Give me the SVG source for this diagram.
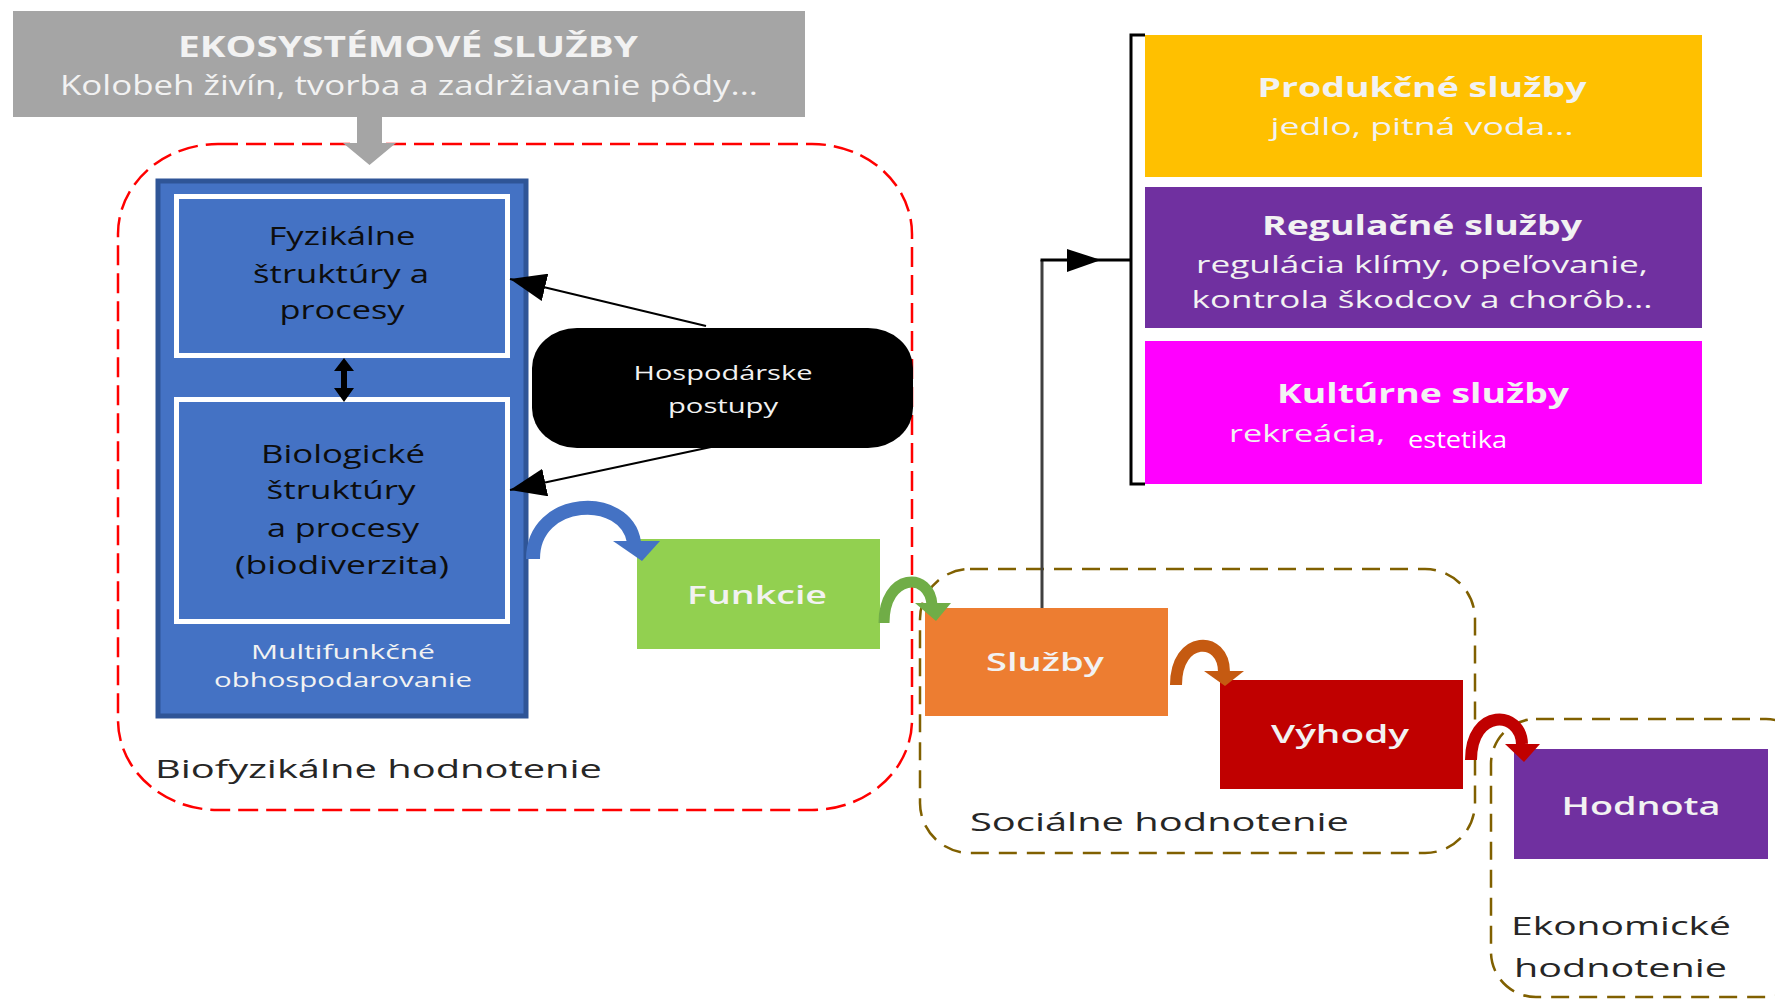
<svg xmlns="http://www.w3.org/2000/svg" width="1775" height="1000" viewBox="0 0 1775 1000">
<style>
text{font-family:"Open Sans","Liberation Sans",sans-serif;text-anchor:middle}
.w{fill:#F2F2F2}
.k{fill:#0D0D0D}
.lbl{fill:#262626;font-size:26px;text-anchor:start}
.b{font-weight:bold}
.sb{font-weight:600}
.redd{fill:none;stroke:#FF0000;stroke-width:2.5;stroke-dasharray:20 8}
.brd{fill:none;stroke:#806000;stroke-width:2.5;stroke-dasharray:18 10}
.ln{fill:none;stroke:#000;stroke-width:2}
</style>
<defs>
<marker id="ah" markerUnits="userSpaceOnUse" markerWidth="36" markerHeight="28" refX="36" refY="14" orient="auto">
<path d="M0,0 L36,14 L0,28 Z" fill="#000"/>
</marker>
</defs>

<!-- frames -->
<g id="frame-biofyzikalne">
<rect class="redd" x="118" y="144" width="794" height="666" rx="100" ry="90"/>
<text class="lbl" x="155" y="778" textLength="447" lengthAdjust="spacingAndGlyphs">Biofyzikálne hodnotenie</text>
</g>
<g id="frame-socialne">
<rect class="brd" x="920" y="569" width="555" height="284" rx="50" ry="50"/>
<text class="lbl" x="970" y="831" textLength="379" lengthAdjust="spacingAndGlyphs">Sociálne hodnotenie</text>
</g>
<g id="frame-ekonomicke">
<rect class="brd" x="1491" y="719" width="320" height="278" rx="45" ry="45"/>
<text class="lbl" x="1511" y="935" textLength="220" lengthAdjust="spacingAndGlyphs">Ekonomické</text>
<text class="lbl" x="1514" y="977" textLength="213" lengthAdjust="spacingAndGlyphs">hodnotenie</text>
</g>

<!-- nodes -->
<g id="ekosystemove-sluzby">
<rect x="13" y="11" width="792" height="106" fill="#A5A5A5"/>
<text class="w b" x="408" y="57" font-size="28" textLength="460" lengthAdjust="spacingAndGlyphs">EKOSYSTÉMOVÉ SLUŽBY</text>
<text class="w" x="409" y="95" font-size="27" textLength="698" lengthAdjust="spacingAndGlyphs">Kolobeh živín, tvorba a zadržiavanie pôdy...</text>
<path d="M357 116 L382 116 L382 143 L396 143 L369.5 165 L343 143 L357 143 Z" fill="#A5A5A5"/>
</g>

<g id="multifunkcne">
<rect x="158" y="181" width="368" height="535" fill="#4472C4" stroke="#2F5597" stroke-width="5"/>
<text class="w" x="343" y="659" font-size="20" textLength="184" lengthAdjust="spacingAndGlyphs">Multifunkčné</text>
<text class="w" x="343" y="687" font-size="20" textLength="258" lengthAdjust="spacingAndGlyphs">obhospodarovanie</text>
</g>

<g id="fyzikalne">
<rect x="176.5" y="196.5" width="331" height="159" fill="#4472C4" stroke="#FFFFFF" stroke-width="5"/>
<text class="k" x="342" y="245" font-size="25" textLength="147" lengthAdjust="spacingAndGlyphs">Fyzikálne</text>
<text class="k" x="341" y="283" font-size="25" textLength="176" lengthAdjust="spacingAndGlyphs">štruktúry a</text>
<text class="k" x="342" y="319" font-size="25" textLength="125" lengthAdjust="spacingAndGlyphs">procesy</text>
</g>

<g id="biologicke">
<rect x="176.5" y="399.5" width="331" height="222" fill="#4472C4" stroke="#FFFFFF" stroke-width="5"/>
<text class="k" x="343" y="463" font-size="25" textLength="164" lengthAdjust="spacingAndGlyphs">Biologické</text>
<text class="k" x="341" y="499" font-size="25" textLength="149" lengthAdjust="spacingAndGlyphs">štruktúry</text>
<text class="k" x="343" y="537" font-size="25" textLength="152" lengthAdjust="spacingAndGlyphs">a procesy</text>
<text class="k" x="342" y="574" font-size="25" textLength="214" lengthAdjust="spacingAndGlyphs">(biodiverzita)</text>
</g>

<g id="hospodarske">
<rect x="532" y="328" width="381" height="120" rx="45" ry="40" fill="#000"/>
<text class="w" x="723" y="380" font-size="20" textLength="179" lengthAdjust="spacingAndGlyphs">Hospodárske</text>
<text class="w" x="723" y="413" font-size="20" textLength="110" lengthAdjust="spacingAndGlyphs">postupy</text>
</g>

<g id="funkcie">
<rect x="637" y="539" width="243" height="110" fill="#92D050"/>
<text class="w sb" x="757" y="604" font-size="26" textLength="140" lengthAdjust="spacingAndGlyphs">Funkcie</text>
</g>

<g id="sluzby">
<rect x="925" y="608" width="243" height="108" fill="#ED7D31"/>
<text class="w sb" x="1045" y="671" font-size="26" textLength="118" lengthAdjust="spacingAndGlyphs">Služby</text>
</g>

<g id="vyhody">
<rect x="1220" y="680" width="243" height="109" fill="#C00000"/>
<text class="w sb" x="1340" y="743" font-size="26" textLength="138" lengthAdjust="spacingAndGlyphs">Výhody</text>
</g>

<g id="hodnota">
<rect x="1514" y="749" width="254" height="110" fill="#7030A0"/>
<text class="w sb" x="1641" y="815" font-size="26" textLength="159" lengthAdjust="spacingAndGlyphs">Hodnota</text>
</g>

<g id="produkcne">
<rect x="1145" y="35" width="557" height="142" fill="#FFC000"/>
<text class="w b" x="1422" y="97" font-size="26" textLength="329" lengthAdjust="spacingAndGlyphs">Produkčné služby</text>
<text class="w" x="1422" y="135" font-size="24" textLength="303" lengthAdjust="spacingAndGlyphs">jedlo, pitná voda...</text>
</g>

<g id="regulacne">
<rect x="1145" y="187" width="557" height="141" fill="#7030A0"/>
<text class="w b" x="1422" y="235" font-size="26" textLength="320" lengthAdjust="spacingAndGlyphs">Regulačné služby</text>
<text class="w" x="1422" y="273" font-size="24" textLength="452" lengthAdjust="spacingAndGlyphs">regulácia klímy, opeľovanie,</text>
<text class="w" x="1422" y="308" font-size="24" textLength="461" lengthAdjust="spacingAndGlyphs">kontrola škodcov a chorôb...</text>
</g>

<g id="kulturne">
<rect x="1145" y="341" width="557" height="143" fill="#FF00FF"/>
<text class="w b" x="1423" y="403" font-size="26" textLength="292" lengthAdjust="spacingAndGlyphs">Kultúrne služby</text>
<text class="w" x="1229" y="442" font-size="24" style="text-anchor:start" textLength="156" lengthAdjust="spacingAndGlyphs">rekreácia,</text>
<text x="1408" y="448" font-size="23" style="text-anchor:start;fill:#FFFFFF" textLength="99" lengthAdjust="spacingAndGlyphs">estetika</text>
</g>

<!-- connectors -->
<g id="connectors">
<line class="ln" x1="706" y1="326" x2="510" y2="279" marker-end="url(#ah)"/>
<line class="ln" x1="711" y1="447" x2="510" y2="490" marker-end="url(#ah)"/>
<line x1="344" y1="368" x2="344" y2="391" stroke="#000" stroke-width="6"/>
<path d="M334 371 L354 371 L344 358 Z M334 388 L354 388 L344 402 Z" fill="#000"/>
<path d="M1042 608 L1042 260" fill="none" stroke="#404040" stroke-width="3"/>
<path d="M1040.5 260 L1131 260" fill="none" stroke="#000" stroke-width="3"/>
<path d="M1067 249 L1101 260 L1067 272 Z" fill="#000"/>
<path d="M1145 35 L1131 35 L1131 484 L1145 484" fill="none" stroke="#000" stroke-width="3"/>
<path d="M533 559 C 533 496, 626 492, 634 542" fill="none" stroke="#4472C4" stroke-width="14"/>
<path d="M613 541 L660 541 L642 561 Z" fill="#4472C4"/>
<path d="M884 623 C 884 573, 930 571, 932 605" fill="none" stroke="#70AD47" stroke-width="11"/>
<path d="M915 603 L951 603 L936 621 Z" fill="#70AD47"/>
<path d="M1176 685 C 1176 635, 1224 635, 1224 672" fill="none" stroke="#C55A11" stroke-width="12"/>
<path d="M1204 671 L1244 671 L1225 686 Z" fill="#C55A11"/>
<path d="M1471 760 C 1471 708, 1521 710, 1522 744" fill="none" stroke="#C00000" stroke-width="12"/>
<path d="M1505 744 L1540 744 L1524 762 Z" fill="#C00000"/>
</g>
</svg>
